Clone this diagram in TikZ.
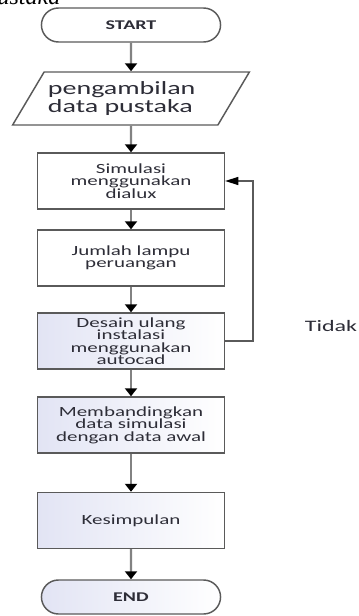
\documentclass[tikz,border=0pt]{standalone}
\usepackage{fontspec}
\setmainfont{Carlito}[FakeStretch=1.5]
\newfontfamily\judulfont{Liberation Serif}
\usepackage{xcolor}
\usetikzlibrary{shapes.geometric, shapes.misc}
\usetikzlibrary{arrows.meta}
\definecolor{edge}{RGB}{90,90,90}
\definecolor{flowgray}{RGB}{130,130,130}
\definecolor{txt}{RGB}{45,45,55}
\definecolor{tint}{RGB}{226,228,244}

\begin{document}
\begin{tikzpicture}[x=0.75pt, y=-0.75pt,
    term/.style = {draw=edge, line width=1.1pt, rounded rectangle, minimum width=141pt, minimum height=25.5pt, text=txt, font=\bfseries\fontsize{10}{11}\selectfont},
    io/.style = {draw=edge, line width=1.1pt, trapezium, trapezium left angle=48, trapezium right angle=132, trapezium stretches=true, minimum width=178pt, minimum height=39.75pt, inner sep=0pt, align=left, text=txt, font=\fontsize{14}{11.25}\selectfont},
    proc/.style = {draw=edge, line width=1.1pt, rectangle, minimum width=140pt, minimum height=42pt, align=center, text=txt, font=\fontsize{10.5}{9.3}\selectfont},
    tinted/.style = {left color=tint, right color=white},
    flow/.style = {draw=flowgray, line width=1.8pt},
    back/.style = {draw=edge, line width=1.1pt},
    >={Triangle[color=black, width=9pt, length=6pt]}]
        \useasboundingbox (0, 0) rectangle (358, 616);
        \node[font=\judulfont\itshape\fontsize{18}{18}\selectfont, anchor=base east] at (65, 5) (judul) {pustaka};
        \node[term] at (131, 25) (start) {START};
        \node[io] at (131, 98.5) (pustaka) {pengambilan\hspace*{14pt}\\data pustaka\hspace*{14pt}};
        \node[proc] at (131, 181) (dialux) {Simulasi\\menggunakan\\dialux};
        \node[proc] at (131, 258) (lampu) {Jumlah lampu\\peruangan};
        \node[proc, tinted] at (131, 341) (autocad) {Desain ulang\\instalasi\\menggunakan\\autocad};
        \node[proc, tinted] at (131, 425) (banding) {Membandingkan\\data simulasi\\dengan data awal};
        \node[proc, tinted] at (131, 520.5) (simpul) {Kesimpulan};
        \node[term, tinted] at (131, 597) (selesai) {END};
        \node[text=txt, font=\fontsize{12}{13}\selectfont] at (331, 326) (tidak) {Tidak};
        \draw[flow, ->] (start) -- (pustaka);
        \draw[flow, ->] (pustaka) -- (dialux);
        \draw[flow, ->] (dialux) -- (lampu);
        \draw[flow, ->] (lampu) -- (autocad);
        \draw[flow, ->] (autocad) -- (banding);
        \draw[flow, ->] (banding) -- (simpul);
        \draw[flow, ->] (simpul) -- (selesai);
        \draw[back, -{Triangle[color=black, width=6pt, length=10pt]}] (autocad.east) -- ++(28, 0) |- (dialux.east);
\end{tikzpicture}
\end{document}
